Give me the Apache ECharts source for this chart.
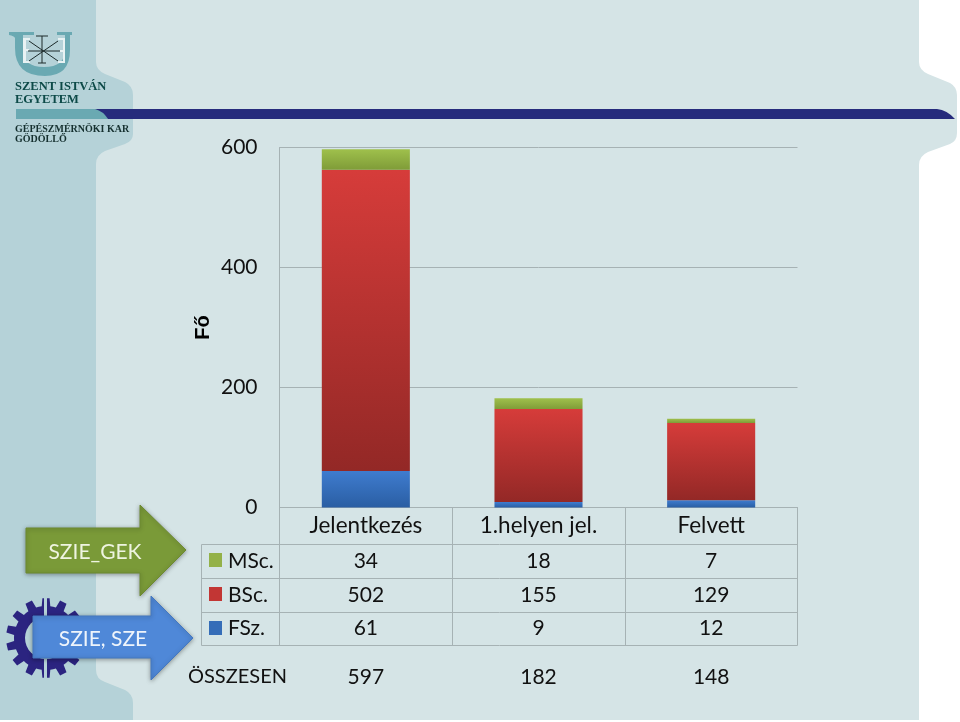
<!DOCTYPE html>
<html>
<head>
<meta charset="utf-8">
<style>
  html, body { margin: 0; padding: 0; background: #fff; }
  #main { width: 960px; height: 722px; }
</style>
<script src="https://cdn.jsdelivr.net/npm/echarts@6/dist/echarts.min.js"></script>
</head>
<body>
<div id="main"></div>
<script>
var categories = ['Jelentkezés', '1.helyen jel.', 'Felvett']
var msc = [34, 18, 7]
var bsc = [502, 155, 129]
var fsz = [61, 9, 12]
var totals = [597, 182, 148]
var totalLabel = 'ÖSSZESEN'
var yTicks = [0, 200, 400, 600]

var FONT = 'Lato, "Open Sans", sans-serif'
var LINE = '#a6b2b4'
var TEXT = '#111'
var SIDE = '#b5d2d8'

function grad(top, bottom) {
  return new echarts.graphic.LinearGradient(0, 0, 0, 1, [
    { offset: 0, color: top },
    { offset: 1, color: bottom }
  ])
}

// graphic has no plain svg path type, so each decoration gets its own registered shape
var shapeCount = 0
function pathType(d) {
  var name = 'decor' + (shapeCount++)
  echarts.graphic.registerShape(name, echarts.graphic.extendPath(d))
  return name
}

function shape(d, fill, z, style) {
  return {
    type: pathType(d),
    silent: true,
    z: z,
    style: style || { fill: fill }
  }
}

function label(x, y, text, opts) {
  opts = opts || {}
  return {
    type: 'text',
    x: x,
    y: y,
    z: opts.z || 20,
    silent: true,
    style: {
      text: text,
      font: opts.font || ('21px ' + FONT),
      fill: opts.fill || TEXT,
      align: opts.align || 'center',
      verticalAlign: 'middle'
    }
  }
}

function line(x1, y1, x2, y2) {
  return {
    type: 'line',
    z: 5,
    silent: true,
    shape: { x1: x1, y1: y1, x2: x2, y2: y2 },
    style: { stroke: LINE, lineWidth: 1 }
  }
}

// gear behind the blue arrow
function gearPath(cx, cy, rOut, rIn, teeth) {
  var d = ''
  var step = Math.PI * 2 / teeth
  for (var i = 0; i < teeth; i++) {
    var a = i * step + step / 2
    var pts = [
      [rIn, a - step * 0.5], [rIn, a - step * 0.3],
      [rOut, a - step * 0.2], [rOut, a + step * 0.2],
      [rIn, a + step * 0.3]
    ]
    pts.forEach(function (p, j) {
      var x = cx + p[0] * Math.cos(p[1])
      var y = cy + p[0] * Math.sin(p[1])
      d += (i === 0 && j === 0 ? 'M' : 'L') + x.toFixed(1) + ' ' + y.toFixed(1)
    })
  }
  return d + 'Z'
}

var decor = [
  // slide panels
  shape('M0 0H919V62Q919 70 928 74L950 83Q957 87 957 95V133Q957 141 950 144L928 152Q919 156 919 165V720H0Z', '#d5e4e6', 0),
  shape('M0 0H96V62Q96 70 105 74L125 82Q133 86 133 95V134Q133 141 125 144L105 151Q96 155 96 164V670Q96 679 105 682L125 690Q133 694 133 703V720H0Z', SIDE, 1),
  // title bar
  shape('M16 109H95Q103 109 108 119H16Z', '#6aa9b2', 2),
  shape('M95 109H937Q947 110 955 119H108Q103 111 95 109Z', '#262b7c', 2),
  // university logo
  shape('M9 32H34V35H23V50Q23 67 44 67Q65 67 65 50V35H57V32H72V35H70V50Q70 76 45 76Q15 76 15 48V38Q14 36 9 35Z', '#6aa9b2', 3),
  shape('M23 38H30V40H26V49H29V51H26V61H30V63H23Z M58 38H65V63H58V61H63V52H60V50H63V40H58Z', '#e8f2f3', 3),
  shape('M28 51H60M42 36V63M29 41L58 61M29 61L58 41M36 36H48M38 63H46', null, 4, { fill: null, stroke: '#1c2a2a', lineWidth: 1 }),
  label(15, 87, 'SZENT ISTVÁN', { align: 'left', font: 'bold 12.5px "Liberation Serif", serif', fill: '#0d4a48', z: 6 }),
  label(15, 100, 'EGYETEM', { align: 'left', font: 'bold 12.5px "Liberation Serif", serif', fill: '#0d4a48', z: 6 }),
  label(15, 129, 'GÉPÉSZMÉRNÖKI KAR', { align: 'left', font: 'bold 10px "Liberation Serif", serif', fill: '#15302f', z: 6 }),
  label(15, 139, 'GÖDÖLLŐ', { align: 'left', font: 'bold 10px "Liberation Serif", serif', fill: '#15302f', z: 6 }),
  // gear and arrows
  shape(gearPath(46, 638, 40, 32, 14), '#2b2480', 3),
  { type: 'circle', silent: true, z: 4, shape: { cx: 46, cy: 638, r: 21 }, style: { fill: SIDE } },
  shape('M44 595H47V680H44Z', SIDE, 4),
  shape('M26 528H140V505L186 550L140 596V573H26Z', '#7a9a38', 7, {
    fill: '#7a9a38', stroke: '#6d8a30', lineWidth: 1, shadowBlur: 4, shadowColor: 'rgba(0,0,0,0.35)', shadowOffsetY: 1
  }),
  shape('M33 616H151V596L193 638L151 680V658H33Z', '#4f88d8', 7, {
    fill: '#4f88d8', stroke: '#4478c0', lineWidth: 1, shadowBlur: 4, shadowColor: 'rgba(0,0,0,0.35)', shadowOffsetY: 1
  }),
  label(95, 552, 'SZIE_GEK', { fill: '#eef4e0', z: 8 }),
  label(103, 639, 'SZIE, SZE', { fill: '#eef4fb', z: 8 }),
  // fixed table rules
  line(201.5, 544.5, 797.5, 544.5),
  line(201.5, 578.5, 797.5, 578.5),
  line(201.5, 612.5, 797.5, 612.5),
  line(201.5, 645.5, 797.5, 645.5),
  line(201.5, 544.5, 201.5, 645.5),
  line(279.5, 507.5, 279.5, 645.5),
  line(452.5, 507.5, 452.5, 645.5),
  line(625.5, 507.5, 625.5, 645.5),
  line(797.5, 507.5, 797.5, 645.5),
  // legend keys
  shape('M209 553H222V567H209Z', '#93b148', 6),
  shape('M209 587H222V601H209Z', '#c23634', 6),
  shape('M209 621H222V635H209Z', '#356db8', 6),
  label(228, 561, 'MSc.', { align: 'left' }),
  label(228, 595, 'BSc.', { align: 'left' }),
  label(228, 628, 'FSz.', { align: 'left' }),
  label(188, 677, totalLabel, { align: 'left', font: '20px ' + FONT })
]

var chart = echarts.init(document.getElementById('main'), null, { renderer: 'canvas' })

chart.setOption({
  animation: false,
  backgroundColor: '#fff',
  grid: { left: 279.5, right: 162.5, top: 147.5, bottom: 214.5 },
  xAxis: {
    type: 'category',
    z: 3,
    data: categories,
    axisLine: { lineStyle: { color: LINE } },
    axisTick: { show: false },
    axisLabel: { show: false }
  },
  yAxis: {
    type: 'value',
    z: 3,
    min: yTicks[0],
    max: yTicks[yTicks.length - 1],
    interval: 200,
    name: 'Fő',
    nameLocation: 'middle',
    nameGap: 66,
    nameMoveOverlap: false,
    nameRotate: 90,
    nameTextStyle: { color: '#000', fontWeight: 'bold', fontSize: 20, fontFamily: '"Liberation Sans", Arial, sans-serif' },
    axisLine: { show: true, lineStyle: { color: LINE } },
    axisTick: { show: false },
    axisLabel: { color: TEXT, fontSize: 21, fontFamily: FONT, margin: 22 },
    splitLine: { show: true, lineStyle: { color: LINE } }
  },
  series: [
    { name: 'FSz.', type: 'bar', z: 4, stack: 'fo', barWidth: '51%', data: fsz, itemStyle: { color: grad('#3f7ccf', '#2a5ea3') } },
    { name: 'BSc.', type: 'bar', z: 4, stack: 'fo', data: bsc, itemStyle: { color: grad('#d63c3a', '#932826') } },
    { name: 'MSc.', type: 'bar', z: 4, stack: 'fo', data: msc, itemStyle: { color: grad('#9fc04c', '#7f9c38') } }
  ],
  graphic: decor
})

// table cells, centred under each category via the chart's own x scale
var cells = []
categories.forEach(function (c, i) {
  var x = chart.convertToPixel({ xAxisIndex: 0 }, c)
  cells.push(label(x, 526, c, { font: '22.5px ' + FONT }))
  cells.push(label(x, 561, String(msc[i])))
  cells.push(label(x, 595, String(bsc[i])))
  cells.push(label(x, 628, String(fsz[i])))
  cells.push(label(x, 677, String(totals[i])))
})
chart.setOption({ graphic: decor.concat(cells) }, { replaceMerge: ['graphic'] })
</script>
</body>
</html>
